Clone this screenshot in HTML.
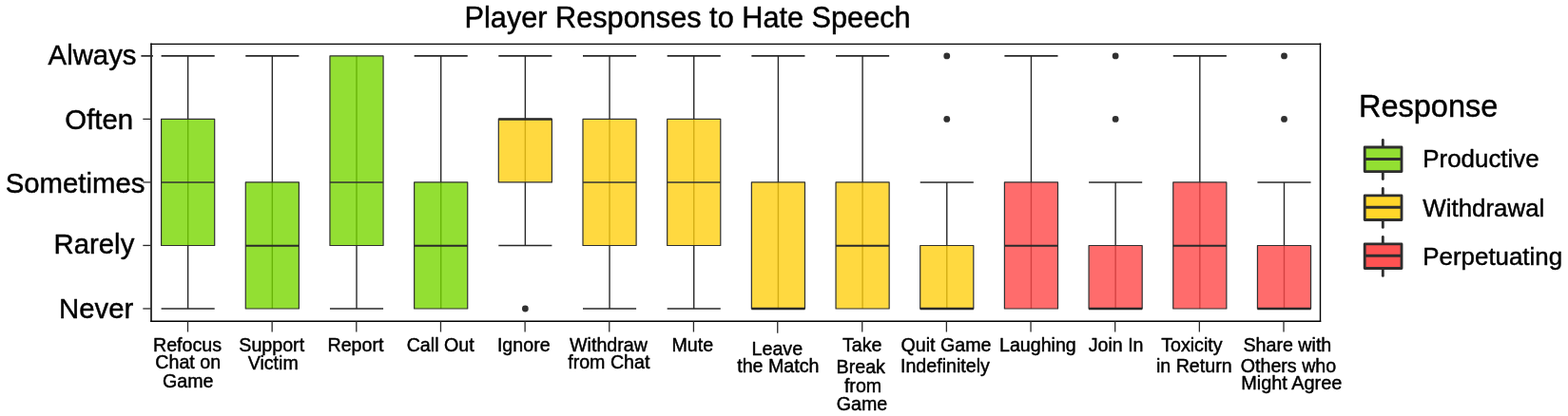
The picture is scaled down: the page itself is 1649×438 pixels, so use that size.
<!DOCTYPE html>
<html lang="en"><head><meta charset="utf-8"><title>Player Responses to Hate Speech</title>
<style>html,body{margin:0;padding:0;background:#fff;}body{width:1649px;height:438px;overflow:hidden;}svg{display:block;}text{font-family:"Liberation Sans",Arial,Helvetica,sans-serif;fill:#000;stroke:#000;stroke-width:0.45px;stroke-linejoin:round;}</style>
</head><body>
<svg width="1649" height="438" viewBox="0 0 1649 438">
<rect x="0" y="0" width="1649" height="438" fill="#ffffff"/>
<text transform="translate(723.10 28.65) scale(1 1.01)" font-size="30.7" text-anchor="middle">Player Responses to Hate Speech</text>
<g stroke="#282828" stroke-width="1.4" fill="none" stroke-linecap="butt">
<line x1="197.65" y1="58.90" x2="197.65" y2="325.02"/>
<line x1="169.60" y1="58.90" x2="225.70" y2="58.90" stroke-width="1.6"/>
<line x1="169.60" y1="325.02" x2="225.70" y2="325.02" stroke-width="1.6"/>
<rect x="169.60" y="125.43" width="56.10" height="133.06" fill="#78d700" fill-opacity="0.8" stroke-width="1.2" stroke="#303030" stroke-linejoin="round"/>
<line x1="169.60" y1="191.96" x2="225.70" y2="191.96" stroke-width="1.60" stroke="#333333" stroke-linecap="butt"/>
<line x1="286.33" y1="58.90" x2="286.33" y2="325.02"/>
<line x1="258.28" y1="58.90" x2="314.38" y2="58.90" stroke-width="1.6"/>
<rect x="258.28" y="191.96" width="56.10" height="133.06" fill="#78d700" fill-opacity="0.8" stroke-width="1.2" stroke="#303030" stroke-linejoin="round"/>
<line x1="258.28" y1="258.74" x2="314.38" y2="258.74" stroke-width="1.90" stroke="#2a2a2a" stroke-linecap="butt"/>
<line x1="375.01" y1="58.90" x2="375.01" y2="325.02"/>
<line x1="346.96" y1="325.02" x2="403.06" y2="325.02" stroke-width="1.6"/>
<rect x="346.96" y="58.90" width="56.10" height="199.59" fill="#78d700" fill-opacity="0.8" stroke-width="1.2" stroke="#303030" stroke-linejoin="round"/>
<line x1="346.96" y1="191.96" x2="403.06" y2="191.96" stroke-width="1.60" stroke="#333333" stroke-linecap="butt"/>
<line x1="463.69" y1="58.90" x2="463.69" y2="325.02"/>
<line x1="435.64" y1="58.90" x2="491.74" y2="58.90" stroke-width="1.6"/>
<rect x="435.64" y="191.96" width="56.10" height="133.06" fill="#78d700" fill-opacity="0.8" stroke-width="1.2" stroke="#303030" stroke-linejoin="round"/>
<line x1="435.64" y1="258.74" x2="491.74" y2="258.74" stroke-width="1.90" stroke="#2a2a2a" stroke-linecap="butt"/>
<line x1="552.37" y1="58.90" x2="552.37" y2="258.49"/>
<line x1="524.32" y1="58.90" x2="580.42" y2="58.90" stroke-width="1.6"/>
<line x1="524.32" y1="258.49" x2="580.42" y2="258.49" stroke-width="1.6"/>
<rect x="524.32" y="125.43" width="56.10" height="66.53" fill="#ffcf10" fill-opacity="0.8" stroke-width="1.2" stroke="#303030" stroke-linejoin="round"/>
<line x1="524.32" y1="125.43" x2="580.42" y2="125.43" stroke-width="2.60" stroke="#2a2a2a" stroke-linecap="butt"/>
<circle cx="552.37" cy="325.02" r="3.4" fill="#303030" stroke="none"/>
<line x1="641.05" y1="58.90" x2="641.05" y2="325.02"/>
<line x1="613.00" y1="58.90" x2="669.10" y2="58.90" stroke-width="1.6"/>
<line x1="613.00" y1="325.02" x2="669.10" y2="325.02" stroke-width="1.6"/>
<rect x="613.00" y="125.43" width="56.10" height="133.06" fill="#ffcf10" fill-opacity="0.8" stroke-width="1.2" stroke="#303030" stroke-linejoin="round"/>
<line x1="613.00" y1="191.96" x2="669.10" y2="191.96" stroke-width="1.60" stroke="#333333" stroke-linecap="butt"/>
<line x1="729.73" y1="58.90" x2="729.73" y2="325.02"/>
<line x1="701.68" y1="58.90" x2="757.78" y2="58.90" stroke-width="1.6"/>
<line x1="701.68" y1="325.02" x2="757.78" y2="325.02" stroke-width="1.6"/>
<rect x="701.68" y="125.43" width="56.10" height="133.06" fill="#ffcf10" fill-opacity="0.8" stroke-width="1.2" stroke="#303030" stroke-linejoin="round"/>
<line x1="701.68" y1="191.96" x2="757.78" y2="191.96" stroke-width="1.60" stroke="#333333" stroke-linecap="butt"/>
<line x1="818.41" y1="58.90" x2="818.41" y2="325.02"/>
<line x1="790.36" y1="58.90" x2="846.46" y2="58.90" stroke-width="1.6"/>
<rect x="790.36" y="191.96" width="56.10" height="133.06" fill="#ffcf10" fill-opacity="0.8" stroke-width="1.2" stroke="#303030" stroke-linejoin="round"/>
<line x1="790.36" y1="325.02" x2="846.46" y2="325.02" stroke-width="2.60" stroke="#2a2a2a" stroke-linecap="butt"/>
<line x1="907.09" y1="58.90" x2="907.09" y2="325.02"/>
<line x1="879.04" y1="58.90" x2="935.14" y2="58.90" stroke-width="1.6"/>
<rect x="879.04" y="191.96" width="56.10" height="133.06" fill="#ffcf10" fill-opacity="0.8" stroke-width="1.2" stroke="#303030" stroke-linejoin="round"/>
<line x1="879.04" y1="258.74" x2="935.14" y2="258.74" stroke-width="1.90" stroke="#2a2a2a" stroke-linecap="butt"/>
<line x1="995.77" y1="191.96" x2="995.77" y2="325.02"/>
<line x1="967.72" y1="191.96" x2="1023.82" y2="191.96" stroke-width="1.6"/>
<rect x="967.72" y="258.49" width="56.10" height="66.53" fill="#ffcf10" fill-opacity="0.8" stroke-width="1.2" stroke="#303030" stroke-linejoin="round"/>
<line x1="967.72" y1="325.02" x2="1023.82" y2="325.02" stroke-width="2.60" stroke="#2a2a2a" stroke-linecap="butt"/>
<circle cx="995.77" cy="125.43" r="3.4" fill="#303030" stroke="none"/>
<circle cx="995.77" cy="58.90" r="3.4" fill="#303030" stroke="none"/>
<line x1="1084.45" y1="58.90" x2="1084.45" y2="325.02"/>
<line x1="1056.40" y1="58.90" x2="1112.50" y2="58.90" stroke-width="1.6"/>
<rect x="1056.40" y="191.96" width="56.10" height="133.06" fill="#ff4747" fill-opacity="0.8" stroke-width="1.2" stroke="#303030" stroke-linejoin="round"/>
<line x1="1056.40" y1="258.74" x2="1112.50" y2="258.74" stroke-width="1.90" stroke="#2a2a2a" stroke-linecap="butt"/>
<line x1="1173.13" y1="191.96" x2="1173.13" y2="325.02"/>
<line x1="1145.08" y1="191.96" x2="1201.18" y2="191.96" stroke-width="1.6"/>
<rect x="1145.08" y="258.49" width="56.10" height="66.53" fill="#ff4747" fill-opacity="0.8" stroke-width="1.2" stroke="#303030" stroke-linejoin="round"/>
<line x1="1145.08" y1="325.02" x2="1201.18" y2="325.02" stroke-width="2.60" stroke="#2a2a2a" stroke-linecap="butt"/>
<circle cx="1173.13" cy="125.43" r="3.4" fill="#303030" stroke="none"/>
<circle cx="1173.13" cy="58.90" r="3.4" fill="#303030" stroke="none"/>
<line x1="1261.81" y1="58.90" x2="1261.81" y2="325.02"/>
<line x1="1233.76" y1="58.90" x2="1289.86" y2="58.90" stroke-width="1.6"/>
<rect x="1233.76" y="191.96" width="56.10" height="133.06" fill="#ff4747" fill-opacity="0.8" stroke-width="1.2" stroke="#303030" stroke-linejoin="round"/>
<line x1="1233.76" y1="258.74" x2="1289.86" y2="258.74" stroke-width="1.90" stroke="#2a2a2a" stroke-linecap="butt"/>
<line x1="1350.49" y1="191.96" x2="1350.49" y2="325.02"/>
<line x1="1322.44" y1="191.96" x2="1378.54" y2="191.96" stroke-width="1.6"/>
<rect x="1322.44" y="258.49" width="56.10" height="66.53" fill="#ff4747" fill-opacity="0.8" stroke-width="1.2" stroke="#303030" stroke-linejoin="round"/>
<line x1="1322.44" y1="325.02" x2="1378.54" y2="325.02" stroke-width="2.60" stroke="#2a2a2a" stroke-linecap="butt"/>
<circle cx="1350.49" cy="125.43" r="3.4" fill="#303030" stroke="none"/>
<circle cx="1350.49" cy="58.90" r="3.4" fill="#303030" stroke="none"/>
</g>
<g stroke="#000000" fill="none" stroke-linecap="square">
<line x1="159.00" y1="46.45" x2="1388.50" y2="46.45" stroke-width="1.3"/>
<line x1="1388.50" y1="46.30" x2="1388.50" y2="338.30" stroke-width="1.4"/>
<line x1="159.00" y1="338.30" x2="1388.50" y2="338.30" stroke-width="1.4"/>
<line x1="159.00" y1="46.30" x2="159.00" y2="338.30" stroke-width="1.55"/>
</g>
<g stroke="#2a2a2a" stroke-width="1.3">
<line x1="148.40" y1="58.90" x2="160.90" y2="58.90" stroke-width="1.7" stroke="#262626"/>
<line x1="150.30" y1="125.38" x2="159.00" y2="125.38"/>
<line x1="150.30" y1="191.91" x2="159.00" y2="191.91"/>
<line x1="150.30" y1="258.44" x2="159.00" y2="258.44"/>
<line x1="150.30" y1="324.97" x2="159.00" y2="324.97"/>
<line x1="197.50" y1="338.30" x2="197.50" y2="349.50" stroke-width="1.3" stroke="#2a2a2a"/>
<line x1="286.15" y1="338.30" x2="286.15" y2="349.50" stroke-width="1.3" stroke="#2a2a2a"/>
<line x1="374.81" y1="338.30" x2="374.81" y2="349.50" stroke-width="1.3" stroke="#2a2a2a"/>
<line x1="463.47" y1="338.30" x2="463.47" y2="349.50" stroke-width="1.3" stroke="#2a2a2a"/>
<line x1="552.12" y1="338.30" x2="552.12" y2="349.50" stroke-width="1.3" stroke="#2a2a2a"/>
<line x1="640.77" y1="338.30" x2="640.77" y2="349.50" stroke-width="1.3" stroke="#2a2a2a"/>
<line x1="729.43" y1="338.30" x2="729.43" y2="349.50" stroke-width="1.3" stroke="#2a2a2a"/>
<line x1="817.75" y1="338.30" x2="817.75" y2="350.70" stroke-width="1.3" stroke="#2a2a2a"/>
<line x1="906.74" y1="338.30" x2="906.74" y2="349.50" stroke-width="1.3" stroke="#2a2a2a"/>
<line x1="995.39" y1="338.30" x2="995.39" y2="349.50" stroke-width="1.3" stroke="#2a2a2a"/>
<line x1="1084.05" y1="338.30" x2="1084.05" y2="349.50" stroke-width="1.3" stroke="#2a2a2a"/>
<line x1="1172.70" y1="338.30" x2="1172.70" y2="349.50" stroke-width="1.3" stroke="#2a2a2a"/>
<line x1="1261.36" y1="338.30" x2="1261.36" y2="349.50" stroke-width="1.3" stroke="#2a2a2a"/>
<line x1="1350.02" y1="338.30" x2="1350.02" y2="349.50" stroke-width="1.3" stroke="#2a2a2a"/>
</g>
<text transform="translate(143.50 67.76) scale(1 1.02)" font-size="29.35" text-anchor="end">Always</text>
<text transform="translate(140.10 135.77) scale(1 1.02)" font-size="29.35" text-anchor="end">Often</text>
<text transform="translate(152.40 202.50) scale(1 1.02)" font-size="29.35" text-anchor="end">Sometimes</text>
<text transform="translate(141.30 267.20) scale(1 1.02)" font-size="29.35" text-anchor="end">Rarely</text>
<text transform="translate(140.30 335.20) scale(1 1.02)" font-size="29.35" text-anchor="end">Never</text>
<text transform="translate(161.01 369.90) scale(1 1.01)" font-size="19.65" text-anchor="start">Refocus</text>
<text transform="translate(163.32 388.25) scale(1 1.01)" font-size="19.65" text-anchor="start">Chat on</text>
<text transform="translate(171.02 408.00) scale(1 1.01)" font-size="19.65" text-anchor="start">Game</text>
<text transform="translate(251.33 369.90) scale(1 1.01)" font-size="19.65" text-anchor="start">Support</text>
<text transform="translate(260.70 388.90) scale(1 1.01)" font-size="19.65" text-anchor="start">Victim</text>
<text transform="translate(344.51 369.90) scale(1 1.01)" font-size="19.65" text-anchor="start">Report</text>
<text transform="translate(427.69 369.90) scale(1 1.01)" font-size="19.65" text-anchor="start">Call Out</text>
<text transform="translate(522.91 369.90) scale(1 1.01)" font-size="19.65" text-anchor="start">Ignore</text>
<text transform="translate(599.04 369.90) scale(1 1.01)" font-size="19.65" text-anchor="start">Withdraw</text>
<text transform="translate(597.20 388.25) scale(1 1.01)" font-size="19.65" text-anchor="start">from Chat</text>
<text transform="translate(706.42 369.90) scale(1 1.01)" font-size="19.65" text-anchor="start">Mute</text>
<text transform="translate(790.55 373.60) scale(1 1.01)" font-size="19.65" text-anchor="start">Leave</text>
<text transform="translate(775.19 391.70) scale(1 1.01)" font-size="19.65" text-anchor="start">the Match</text>
<text transform="translate(885.92 369.60) scale(1 1.01)" font-size="19.65" text-anchor="start">Take</text>
<text transform="translate(879.57 392.70) scale(1 1.01)" font-size="19.65" text-anchor="start">Break</text>
<text transform="translate(887.89 412.85) scale(1 1.01)" font-size="19.65" text-anchor="start">from</text>
<text transform="translate(879.75 431.70) scale(1 1.01)" font-size="19.65" text-anchor="start">Game</text>
<text transform="translate(947.53 370.10) scale(1 1.01)" font-size="19.65" text-anchor="start">Quit Game</text>
<text transform="translate(946.98 391.70) scale(1 1.01)" font-size="19.65" text-anchor="start">Indefinitely</text>
<text transform="translate(1050.98 369.90) scale(1 1.01)" font-size="19.65" text-anchor="start">Laughing</text>
<text transform="translate(1144.66 369.90) scale(1 1.01)" font-size="19.65" text-anchor="start">Join In</text>
<text transform="translate(1221.18 369.90) scale(1 1.01)" font-size="19.65" text-anchor="start">Toxicity</text>
<text transform="translate(1215.91 392.10) scale(1 1.01)" font-size="19.65" text-anchor="start">in Return</text>
<text transform="translate(1307.50 370.10) scale(1 1.01)" font-size="19.65" text-anchor="start">Share with</text>
<text transform="translate(1304.75 391.80) scale(1 1.01)" font-size="19.65" text-anchor="start">Others who</text>
<text transform="translate(1305.25 410.10) scale(1 1.01)" font-size="19.9" text-anchor="start">Might Agree</text>
<text transform="translate(1429.00 122.75) scale(1 1.01)" font-size="32.5" text-anchor="start">Response</text>
<g stroke="#2e2e2e" stroke-width="2.85" stroke-linecap="round" stroke-linejoin="round">
<line x1="1454.30" y1="147.50" x2="1454.30" y2="188.50"/>
<rect x="1435.20" y="155.00" width="38.80" height="25.60" fill="#ffffff" stroke="none"/>
<rect x="1435.20" y="155.00" width="38.80" height="25.60" fill="#93df32"/>
<line x1="1435.20" y1="167.45" x2="1474.00" y2="167.45" stroke-linecap="butt" stroke-width="3"/>
</g>
<text transform="translate(1496.30 175.90) scale(1 1.01)" font-size="25.9" text-anchor="start">Productive</text>
<g stroke="#2e2e2e" stroke-width="2.85" stroke-linecap="round" stroke-linejoin="round">
<line x1="1454.30" y1="198.40" x2="1454.30" y2="239.40"/>
<rect x="1435.20" y="205.90" width="38.80" height="25.60" fill="#ffffff" stroke="none"/>
<rect x="1435.20" y="205.90" width="38.80" height="25.60" fill="#ffd62a"/>
<line x1="1435.20" y1="218.35" x2="1474.00" y2="218.35" stroke-linecap="butt" stroke-width="3"/>
</g>
<text transform="translate(1496.30 227.70) scale(1 1.01)" font-size="25.9" text-anchor="start">Withdrawal</text>
<g stroke="#2e2e2e" stroke-width="2.85" stroke-linecap="round" stroke-linejoin="round">
<line x1="1454.30" y1="249.40" x2="1454.30" y2="290.40"/>
<rect x="1435.20" y="256.90" width="38.80" height="25.60" fill="#ffffff" stroke="none"/>
<rect x="1435.20" y="256.90" width="38.80" height="25.60" fill="#ff5252"/>
<line x1="1435.20" y1="269.35" x2="1474.00" y2="269.35" stroke-linecap="butt" stroke-width="3"/>
</g>
<text transform="translate(1496.30 278.90) scale(1 1.01)" font-size="25.9" text-anchor="start">Perpetuating</text>
</svg>
</body></html>
